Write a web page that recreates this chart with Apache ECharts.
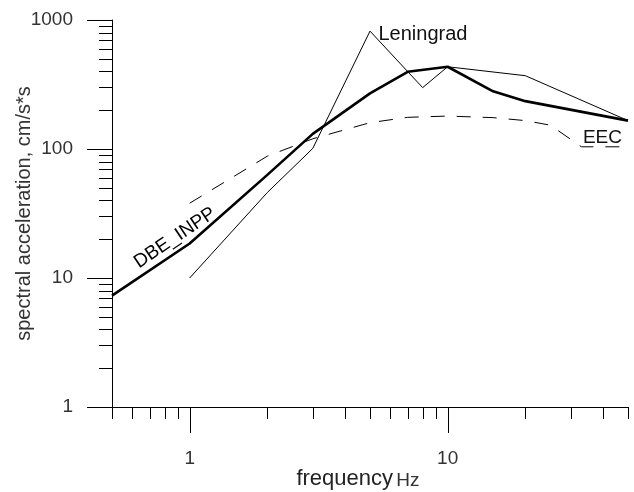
<!DOCTYPE html>
<html>
<head>
<meta charset="utf-8">
<script src="https://cdn.jsdelivr.net/npm/echarts@6/dist/echarts.min.js"></script>
<style>html,body{margin:0;padding:0;background:#fff}#c{width:634px;height:492px}</style>
</head>
<body>
<div id="c"></div>
<script>
// ---- data ----
const dbeFreq = [0.5, 1, 2, 3, 5, 7, 10, 15, 20, 50];
const dbeVal  = [7.3, 18.5, 63, 131, 270, 397, 434, 280, 235, 166];

const lenFreq = [1, 2, 3, 5, 8, 10, 20, 50];
const lenVal  = [10, 46, 101, 820, 299, 434, 370, 166];

const eecFreq = [1, 2, 3, 5, 7, 10, 15, 20, 25, 33, 50];
const eecVal  = [38, 88, 120, 160, 176, 180, 175, 166, 153, 104, 104];

const xMajorTicks = [1, 10];
const xMinorTicks = [0.5, 0.6, 0.7, 0.8, 0.9, 2, 3, 4, 5, 6, 7, 8, 9, 20, 30, 40, 50];
const yMajorTicks = [1, 10, 100, 1000];
const yMinorTicks = [2, 3, 4, 5, 6, 7, 8, 9, 20, 30, 40, 50, 60, 70, 80, 90, 200, 300, 400, 500, 600, 700, 800, 900];
const xLabels = [1, 10];
const yLabels = [1, 10, 100, 1000];

const FONT = "'Liberation Sans', Arial, sans-serif";
const zip = (a, b) => a.map((v, i) => [v, b[i]]);

function withLabel(data, idx, label) {
  return data.map((d, i) => i === idx ? { value: d, label: Object.assign({ show: true }, label) } : d);
}

const chart = echarts.init(document.getElementById('c'), null, { renderer: 'canvas' });

const xTickData = xMajorTicks.map(v => [v, 1, 1]).concat(xMinorTicks.map(v => [v, 1, 0]));
const yTickData = yMajorTicks.map(v => [0.5, v, 1]).concat(yMinorTicks.map(v => [0.5, v, 0]));

const lineBase = {
  type: 'line',
  symbol: 'circle',
  symbolSize: 1,
  showSymbol: true,
  itemStyle: { color: 'rgba(0,0,0,0)' },
  label: { show: false },
  emphasis: { disabled: true },
  silent: true,
  z: 3
};

chart.setOption({
  animation: false,
  backgroundColor: '#fff',
  grid: { left: 112, right: 6, top: 20, bottom: 85, containLabel: false, outerBoundsMode: 'none' },
  xAxis: {
    type: 'log', logBase: 10, min: 0.5, max: 50,
    axisLine: { show: true, lineStyle: { color: '#000', width: 1 } },
    axisTick: { show: false },
    splitLine: { show: false },
    minorTick: { show: false },
    axisLabel: {
      margin: 42, color: '#333', fontSize: 19, fontFamily: FONT,
      showMinLabel: true, showMaxLabel: true,
      formatter: v => { const r = Math.round(v * 1000) / 1000; return xLabels.includes(r) ? String(r) : ''; }
    },
    name: '{a|frequency} {b|Hz}',
    nameLocation: 'middle',
    nameGap: 61,
    nameMoveOverlap: false,
    nameTextStyle: {
      padding: [0, 24, 0, 0],
      rich: {
        a: { fontSize: 22, color: '#222', fontFamily: FONT },
        b: { fontSize: 19, color: '#333', fontFamily: FONT, padding: [3, 0, 0, 0] }
      }
    }
  },
  yAxis: {
    type: 'log', logBase: 10, min: 1, max: 1000,
    axisLine: { show: true, lineStyle: { color: '#000', width: 1 } },
    axisTick: { show: false },
    splitLine: { show: false },
    axisLabel: {
      margin: 39, color: '#333', fontSize: 19, fontFamily: FONT,
      formatter: v => { const r = Math.round(v); return yLabels.includes(r) ? String(r) : ''; }
    },
    name: 'spectral acceleration, cm/s*s',
    nameLocation: 'middle',
    nameGap: 78,
    nameMoveOverlap: false,
    nameTextStyle: { fontSize: 20, color: '#333', fontFamily: FONT }
  },
  series: [
    Object.assign({}, lineBase, {
      name: 'DBE_INPP',
      data: withLabel(zip(dbeFreq, dbeVal), 1, {
        formatter: 'DBE_INPP', position: 'inside', rotate: 34, offset: [-9, -13],
        color: '#000', fontSize: 19, fontFamily: FONT, align: 'center', verticalAlign: 'middle'
      }),
      lineStyle: { color: '#000', width: 2.6 }
    }),
    Object.assign({}, lineBase, {
      name: 'Leningrad',
      data: withLabel(zip(lenFreq, lenVal), 3, {
        formatter: 'Leningrad', position: 'right', distance: 8, offset: [0, 3],
        color: '#111', fontSize: 20, fontFamily: FONT
      }),
      lineStyle: { color: '#000', width: 1 }
    }),
    Object.assign({}, lineBase, {
      name: 'EEC',
      data: withLabel(zip(eecFreq, eecVal), 9, {
        formatter: 'EEC', position: 'right', distance: 1, offset: [0, -9],
        color: '#111', fontSize: 19, fontFamily: FONT
      }),
      lineStyle: { color: '#000', width: 1, type: [14, 12] }
    }),
    {
      type: 'custom', name: 'xticks', silent: true, clip: false, z: 4,
      encode: { x: 0, y: 1 },
      data: xTickData,
      renderItem: (params, api) => {
        const p = api.coord([api.value(0), api.value(1)]);
        const len = api.value(2) ? 26 : 12;
        const x = Math.round(p[0]) + 0.5;
        return { type: 'line', shape: { x1: x, y1: p[1], x2: x, y2: p[1] + len }, style: { stroke: '#000', lineWidth: 1 } };
      }
    },
    {
      type: 'custom', name: 'yticks', silent: true, clip: false, z: 4,
      encode: { x: 0, y: 1 },
      data: yTickData,
      renderItem: (params, api) => {
        const p = api.coord([api.value(0), api.value(1)]);
        const len = api.value(2) ? 25 : 13;
        const y = Math.round(p[1]) + 0.5;
        return { type: 'line', shape: { x1: p[0], y1: y, x2: p[0] - len, y2: y }, style: { stroke: '#000', lineWidth: 1 } };
      }
    }
  ]
});
</script>
</body>
</html>
